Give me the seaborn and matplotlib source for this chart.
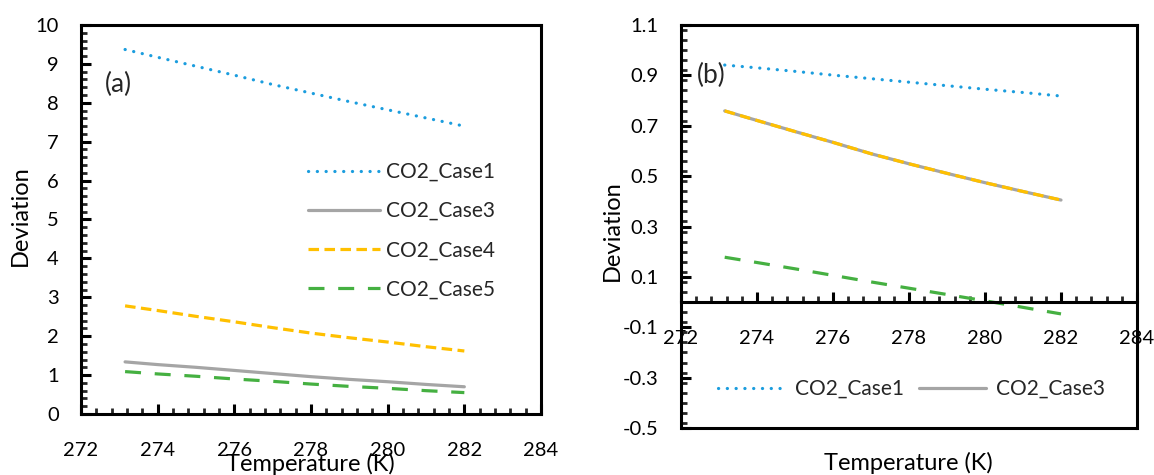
import matplotlib
matplotlib.use("Agg")
import matplotlib.pyplot as plt
from matplotlib.ticker import MultipleLocator
import seaborn as sns
import pandas as pd

# ---------------- data ----------------
temps = [273.15, 274, 275, 276, 277, 278, 279, 280, 281, 282]

a_case1 = [9.37, 9.17, 8.94, 8.71, 8.47, 8.25, 8.03, 7.82, 7.61, 7.40]
a_case3 = [1.34, 1.27, 1.20, 1.12, 1.04, 0.96, 0.89, 0.83, 0.76, 0.70]
a_case4 = [2.78, 2.66, 2.51, 2.37, 2.22, 2.08, 1.96, 1.85, 1.73, 1.62]
a_case5 = [1.09, 1.03, 0.97, 0.90, 0.84, 0.77, 0.71, 0.66, 0.60, 0.55]

b_case1 = [0.941, 0.930, 0.916, 0.901, 0.887, 0.873, 0.859, 0.845, 0.832, 0.818]
b_case3 = [0.759, 0.721, 0.677, 0.634, 0.589, 0.549, 0.511, 0.474, 0.439, 0.405]
b_case4 = [0.759, 0.721, 0.677, 0.634, 0.589, 0.549, 0.511, 0.474, 0.439, 0.405]
b_case5 = [0.178, 0.157, 0.132, 0.106, 0.080, 0.055, 0.030, 0.005, -0.021, -0.047]

series_names = ["CO2_Case1", "CO2_Case3", "CO2_Case4", "CO2_Case5"]
x_ticks = [272, 274, 276, 278, 280, 282, 284]
a_yticks = [0, 1, 2, 3, 4, 5, 6, 7, 8, 9, 10]
b_yticks = [-0.5, -0.3, -0.1, 0.1, 0.3, 0.5, 0.7, 0.9, 1.1]

# ---------------- style ----------------
sns.set_theme(style="white")
plt.rcParams["font.family"] = ["Lato", "DejaVu Sans"]

colors = ["#1B9DDE", "#A5A5A5", "#FFC000", "#45B041"]
styles = [
    dict(linestyle=(0, (0.05, 2.7)), dash_capstyle="round", solid_capstyle="round"),
    dict(linestyle="-", solid_capstyle="round"),
    dict(linestyle=(0, (3.3, 1.7)), dash_capstyle="butt"),
    dict(linestyle=(0, (5.0, 4.3)), dash_capstyle="butt"),
]
LW = 2.3
FS_TICK = 14.5
FS_LEG = 15
FS_LAB = 17
FS_TAG = 19

fig = plt.figure(figsize=(11.54, 4.75), dpi=100)
axA = fig.add_axes([81 / 1154, 61 / 475, 460 / 1154, 389 / 475])
axB = fig.add_axes([681 / 1154, 47 / 475, 456 / 1154, 403 / 475])


def draw(ax, data):
    handles = []
    for name, vals, c, st in zip(series_names, data, colors, styles):
        df = pd.DataFrame({"T": temps, "D": vals})
        sns.lineplot(data=df, x="T", y="D", ax=ax, color=c, lw=LW, label=name,
                     legend=False, **st)
        handles.append(ax.lines[-1])
    return handles


hA = draw(axA, [a_case1, a_case3, a_case4, a_case5])
hB = draw(axB, [b_case1, b_case3, b_case4, b_case5])

for ax in (axA, axB):
    ax.set_xlim(272, 284)
    ax.set_xticks(x_ticks)
    ax.xaxis.set_minor_locator(MultipleLocator(0.4))
    for s in ax.spines.values():
        s.set_color("black")
        s.set_linewidth(2.2)
    ax.tick_params(axis="both", which="major", direction="in", length=7, width=2.2,
                   labelsize=FS_TICK, colors="black", bottom=True, left=True)
    ax.tick_params(axis="both", which="minor", direction="in", length=4.5, width=2.0,
                   bottom=True, left=True)
    ax.tick_params(axis="x", which="major", pad=20)
    ax.tick_params(axis="y", which="major", pad=16)
    ax.grid(False)

# panel a
axA.set_ylim(0, 10)
axA.set_yticks(a_yticks)
axA.yaxis.set_minor_locator(MultipleLocator(0.2))
axA.set_xlabel("Temperature (K)", fontsize=FS_LAB, color="black")
axA.set_ylabel("Deviation", fontsize=FS_LAB, color="black")
axA.xaxis.set_label_coords(0.498, -0.101)
axA.yaxis.set_label_coords(-0.108, 0.51)
axA.text(0.052, 0.846, "(a)", transform=axA.transAxes, fontsize=FS_TAG, va="center", ha="left")
axA.legend(handles=hA, labels=series_names, loc="upper left",
           bbox_to_anchor=(0.493, 0.648), frameon=False, fontsize=FS_LEG,
           handlelength=3.45, handletextpad=0.3, labelspacing=0.92,
           borderpad=0, borderaxespad=0)

# panel b
axB.set_ylim(-0.5, 1.1)
axB.set_yticks(b_yticks)
axB.set_yticklabels([f"{v:.1f}" for v in b_yticks])
axB.yaxis.set_minor_locator(MultipleLocator(0.04))
axB.spines["bottom"].set_position(("data", 0))
axB.axhline(-0.5, color="black", lw=2.2, clip_on=False, zorder=5)
axB.set_xlabel("Temperature (K)", fontsize=FS_LAB, color="black")
axB.set_ylabel("Deviation", fontsize=FS_LAB, color="black")
axB.xaxis.set_label_coords(0.498, -0.059)
axB.yaxis.set_label_coords(-0.127, 0.49)
axB.text(0.035, 0.876, "(b)", transform=axB.transAxes, fontsize=FS_TAG, va="center", ha="left")
axB.legend(handles=hB[:2], labels=series_names[:2], loc="upper left",
           bbox_to_anchor=(0.081, 0.122), frameon=False, fontsize=FS_LEG, ncol=2,
           handlelength=3.25, handletextpad=0.45, columnspacing=0.7,
           borderpad=0, borderaxespad=0)

fig.savefig("out.png", dpi=100)
